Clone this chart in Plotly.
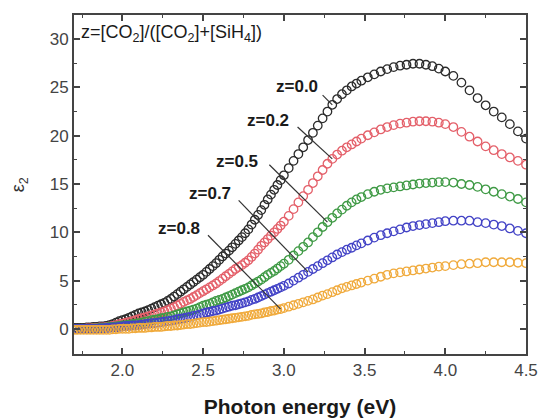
import plotly.graph_objects as go

# photon energy sampling (denser at low energy, as in the measured spectra)
energy = [1.70, 1.72, 1.74, 1.76, 1.78, 1.80, 1.82, 1.84, 1.86, 1.88, 1.90, 1.92, 1.94, 1.96, 1.98,
          2.00, 2.02, 2.04, 2.06, 2.08, 2.10, 2.12, 2.14, 2.16, 2.18, 2.20, 2.22, 2.24, 2.26, 2.28, 2.30,
          2.32, 2.34, 2.36, 2.38, 2.40, 2.42, 2.44, 2.46, 2.48, 2.50, 2.52, 2.54, 2.56, 2.58, 2.60,
          2.62, 2.64, 2.66, 2.68, 2.70, 2.72, 2.74, 2.76, 2.78, 2.80, 2.82, 2.84, 2.86, 2.88, 2.90,
          2.92, 2.94, 2.96, 2.98, 3.00,
          3.03, 3.06, 3.09, 3.12, 3.15, 3.18, 3.21, 3.24, 3.27, 3.30, 3.33, 3.36, 3.39, 3.42, 3.45, 3.48,
          3.52, 3.56, 3.60, 3.64, 3.68, 3.72, 3.76, 3.80, 3.84, 3.88, 3.92, 3.96, 4.00,
          4.05, 4.10, 4.15, 4.20, 4.25, 4.30, 4.35, 4.40, 4.45, 4.50]

eps_z00 = [0.1, 0.1, 0.1, 0.1, 0.15, 0.15, 0.2, 0.2, 0.25, 0.25, 0.3, 0.4, 0.5, 0.65, 0.8,
           0.9, 1.0, 1.15, 1.3, 1.45, 1.6, 1.7, 1.8, 1.95, 2.1, 2.25, 2.4, 2.55, 2.7, 2.9, 3.1,
           3.35, 3.6, 3.85, 4.1, 4.35, 4.6, 4.85, 5.1, 5.35, 5.6, 5.9, 6.2, 6.5, 6.8, 7.15,
           7.5, 7.8, 8.1, 8.45, 8.8, 9.15, 9.5, 9.9, 10.3, 10.8, 11.3, 11.8, 12.3, 12.85, 13.4,
           13.9, 14.4, 14.9, 15.4, 15.9,
           16.65, 17.4, 18.1, 18.8, 19.55, 20.3, 21.05, 21.8, 22.5, 23.2, 23.8, 24.3, 24.7, 25.1, 25.4, 25.7,
           26.05, 26.35, 26.65, 26.9, 27.1, 27.25, 27.35, 27.45, 27.45, 27.35, 27.2, 26.95, 26.65,
           26.2, 25.5, 24.7, 23.9, 23.15, 22.5, 21.9, 21.2, 20.45, 19.7]

eps_z02 = [0.0, 0.0, 0.0, 0.0, 0.05, 0.05, 0.1, 0.1, 0.15, 0.15, 0.2, 0.25, 0.3, 0.4, 0.5,
           0.55, 0.65, 0.7, 0.8, 0.9, 1.0, 1.1, 1.2, 1.3, 1.4, 1.5, 1.6, 1.7, 1.8, 1.95, 2.1,
           2.25, 2.4, 2.6, 2.8, 2.95, 3.1, 3.3, 3.5, 3.7, 3.9, 4.1, 4.3, 4.5, 4.7, 4.95,
           5.2, 5.45, 5.7, 5.95, 6.2, 6.4, 6.6, 6.85, 7.1, 7.45, 7.8, 8.2, 8.6, 8.95, 9.3,
           9.65, 10.0, 10.35, 10.7, 11.1,
           11.7, 12.4, 13.1, 13.75, 14.4, 15.1, 15.8, 16.45, 17.1, 17.6, 18.05, 18.45, 18.8, 19.1, 19.4, 19.7,
           20.05, 20.35, 20.65, 20.9, 21.1, 21.25, 21.35, 21.45, 21.5, 21.5, 21.45, 21.35, 21.2,
           20.9, 20.4, 19.9, 19.4, 18.9, 18.5, 18.1, 17.75, 17.4, 17.0]

eps_z05 = [0.0, 0.0, 0.0, 0.0, 0.0, 0.0, 0.05, 0.05, 0.1, 0.1, 0.15, 0.2, 0.2, 0.25, 0.3,
           0.35, 0.4, 0.45, 0.5, 0.55, 0.6, 0.65, 0.75, 0.8, 0.9, 0.95, 1.0, 1.1, 1.15, 1.25, 1.3,
           1.4, 1.5, 1.6, 1.7, 1.8, 1.9, 2.0, 2.1, 2.25, 2.4, 2.5, 2.6, 2.75, 2.9, 3.0,
           3.1, 3.25, 3.4, 3.55, 3.7, 3.85, 4.0, 4.15, 4.3, 4.5, 4.7, 4.9, 5.1, 5.35, 5.6,
           5.8, 6.0, 6.25, 6.5, 6.75,
           7.15, 7.6, 8.05, 8.5, 8.95, 9.5, 10.0, 10.55, 11.05, 11.5, 11.95, 12.35, 12.75, 13.1, 13.4, 13.65,
           13.95, 14.2, 14.4, 14.55, 14.65, 14.75, 14.85, 14.95, 15.05, 15.1, 15.15, 15.2, 15.2,
           15.15, 15.0, 14.9, 14.7, 14.45, 14.2, 13.95, 13.7, 13.45, 13.1]

eps_z07 = [0.0, 0.0, 0.0, 0.0, 0.0, 0.0, 0.0, 0.0, 0.05, 0.05, 0.1, 0.1, 0.15, 0.15, 0.2,
           0.25, 0.3, 0.3, 0.35, 0.35, 0.4, 0.45, 0.5, 0.55, 0.6, 0.6, 0.65, 0.7, 0.75, 0.8, 0.85,
           0.9, 1.0, 1.05, 1.1, 1.2, 1.25, 1.35, 1.4, 1.5, 1.6, 1.7, 1.75, 1.85, 1.9, 2.0,
           2.1, 2.2, 2.3, 2.4, 2.45, 2.55, 2.65, 2.75, 2.85, 3.0, 3.1, 3.25, 3.4, 3.55, 3.7,
           3.85, 4.0, 4.15, 4.3, 4.45,
           4.7, 5.0, 5.3, 5.6, 5.9, 6.2, 6.5, 6.8, 7.1, 7.4, 7.7, 7.95, 8.2, 8.4, 8.65, 8.85,
           9.15, 9.45, 9.7, 9.9, 10.1, 10.3, 10.5, 10.65, 10.75, 10.85, 10.95, 11.05, 11.15,
           11.2, 11.2, 11.2, 11.05, 10.95, 10.8, 10.65, 10.4, 10.15, 9.9]

eps_z08 = [-0.1, -0.1, -0.1, -0.1, -0.1, -0.1, -0.1, -0.1, -0.1, -0.1, -0.1, -0.1, -0.05, -0.05, 0.0,
           0.0, 0.0, 0.0, 0.05, 0.05, 0.1, 0.1, 0.1, 0.15, 0.15, 0.2, 0.2, 0.2, 0.25, 0.3, 0.3,
           0.35, 0.35, 0.4, 0.45, 0.5, 0.5, 0.55, 0.6, 0.65, 0.7, 0.7, 0.75, 0.8, 0.85, 0.9,
           0.95, 1.0, 1.05, 1.1, 1.15, 1.2, 1.25, 1.3, 1.35, 1.45, 1.5, 1.55, 1.6, 1.7, 1.75,
           1.85, 1.9, 2.0, 2.05, 2.15,
           2.3, 2.45, 2.6, 2.75, 2.9, 3.05, 3.25, 3.45, 3.6, 3.8, 4.0, 4.2, 4.35, 4.5, 4.65, 4.8,
           5.0, 5.2, 5.4, 5.6, 5.75, 5.85, 5.95, 6.05, 6.15, 6.25, 6.35, 6.45, 6.5,
           6.6, 6.7, 6.75, 6.8, 6.9, 6.9, 6.9, 6.9, 6.85, 6.8]

labels = ["z=0.0", "z=0.2", "z=0.5", "z=0.7", "z=0.8"]
series = [eps_z00, eps_z02, eps_z05, eps_z07, eps_z08]
colors = ["#2b2b2b", "#e4606a", "#3f9a45", "#4343c6", "#f0aa3c"]

# label text positions (data coords), pointer tail (data coords), energy where pointer meets curve
label_pos = [(3.08, 25.1), (2.90, 21.6), (2.71, 17.3), (2.545, 14.0), (2.35, 10.4)]
pointer_tail = [(3.24, 24.2), (3.085, 20.9), (2.91, 17.0), (2.72, 13.3), (2.53, 9.7)]
pointer_energy = [3.30, 3.30, 3.27, 3.15, 2.98]

fig = go.Figure()
for name, ys, col in zip(labels, series, colors):
    fig.add_trace(go.Scatter(
        x=energy, y=ys, mode="markers", name=name,
        marker=dict(symbol="circle-open", size=8.5, color=col, line=dict(width=1.3, color=col)),
        showlegend=False,
    ))

font_main = "Liberation Sans, Arial, sans-serif"
for name, (lx, ly), (tx, ty), pe, ys in zip(labels, label_pos, pointer_tail, pointer_energy, series):
    idx = min(range(len(energy)), key=lambda i: abs(energy[i] - pe))
    fig.add_annotation(x=lx, y=ly, xref="x", yref="y", text="<b>" + name + "</b>",
                       showarrow=False, font=dict(family=font_main, size=17, color="#1a1a1a"))
    fig.add_shape(type="line", xref="x", yref="y", x0=tx, y0=ty, x1=energy[idx], y1=ys[idx],
                  line=dict(color="#333333", width=1.2))

fig.add_annotation(x=0.012, y=0.985, xref="paper", yref="paper", xanchor="left", yanchor="top",
                   text="z=[CO<sub>2</sub>]/([CO<sub>2</sub>]+[SiH<sub>4</sub>])",
                   showarrow=False, font=dict(family=font_main, size=18, color="#1a1a1a"))

fig.add_annotation(x=-0.12, y=0.50, xref="paper", yref="paper", xanchor="center", yanchor="middle",
                   text="ε<sub>2</sub>", textangle=-90, showarrow=False,
                   font=dict(family=font_main, size=18, color="#333333"))

axis_common = dict(showline=True, linecolor="#444444", linewidth=2, mirror="allticks",
                   ticks="inside", ticklen=6, tickwidth=1.5, tickcolor="#444444",
                   showgrid=False, zeroline=False, automargin=False,
                   tickfont=dict(family=font_main, size=17, color="#444444"))

fig.update_xaxes(range=[1.70, 4.50], tickvals=[2.0, 2.5, 3.0, 3.5, 4.0, 4.5],
                 ticktext=["2.0", "2.5", "3.0", "3.5", "4.0", "4.5"],
                 minor=dict(ticks="inside", ticklen=3, tickwidth=1.2, tickcolor="#444444", dtick=0.25, tick0=1.75),
                 title=dict(text="<b>Photon energy (eV)</b>", standoff=20,
                            font=dict(family=font_main, size=21, color="#1a1a1a")),
                 **axis_common)
fig.update_yaxes(range=[-2.6, 32.5], tickvals=[0, 5, 10, 15, 20, 25, 30],
                 ticktext=["0", "5", "10", "15", "20", "25", "30"],
                 minor=dict(ticks="inside", ticklen=3, tickwidth=1.2, tickcolor="#444444", dtick=2.5, tick0=0),
                 **axis_common)

fig.update_layout(width=540, height=419, margin=dict(l=74, r=14, t=15, b=65),
                  plot_bgcolor="white", paper_bgcolor="white")

fig.write_html("out.html")
